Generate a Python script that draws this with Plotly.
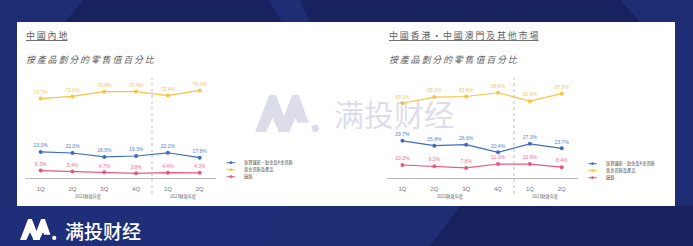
import plotly.graph_objects as go

W, H = 693, 246

# ---------------- data ----------------
quarters = ["1Q", "2Q", "3Q", "4Q", "1Q", "2Q"]
fiscal_years = ["2022財政年度", "2023財政年度"]
quarters_per_year = [4, 2]
series_names = ["珠寶鑲嵌、鉑金及K金首飾", "黃金首飾及產品", "鐘錶"]

mainland_jewellery = [23.0, 22.0, 18.5, 19.3, 22.2, 17.8]
mainland_gold = [70.7, 72.6, 76.8, 76.9, 73.4, 78.0]
mainland_watches = [6.3, 5.4, 4.7, 3.8, 4.4, 4.3]

hkmo_jewellery = [29.7, 25.8, 26.6, 20.4, 27.3, 23.7]
hkmo_gold = [60.1, 65.1, 65.6, 68.6, 61.8, 67.9]
hkmo_watches = [10.2, 9.2, 7.8, 11.0, 10.9, 8.4]

panel_titles = ["中國內地", "中國香港・中國澳門及其他市場"]
panel_subtitle = "按產品劃分的零售值百分比"

# ---------------- styles ----------------
line_colors = ["#3E6DBF", "#F8C441", "#E9577E"]
label_colors = ["#5581CC", "#F5C55A", "#EE6D8E"]
CJK = "Noto Sans CJK TC"
SC = "Noto Sans CJK SC"
NUM = "Liberation Sans"


def px(x):
    return x / W


def py(y):
    return 1 - y / H


def spaced(s):
    return "\u2009".join(list(s))


idx = list(range(len(quarters)))
fig = go.Figure()

panels = [
    dict(data=[mainland_jewellery, mainland_gold, mainland_watches], xa="x", ya="y",
         xd=(24.8, 215.6), yr=84.6, title_x=24, leg_x=226.7, leg_y=162.7),
    dict(data=[hkmo_jewellery, hkmo_gold, hkmo_watches], xa="x2", ya="y2",
         xd=(386.5, 577.7), yr=76.5, title_x=386.5, leg_x=588.3, leg_y=163.7),
]

shapes = []
annotations = []

# background decoration
shapes.append(dict(type="path", xref="paper", yref="paper", layer="below",
                   path=f"M {px(83)},{py(0)} L {px(268)},{py(0)} L {px(282)},{py(22)} L {px(65)},{py(22)} Z",
                   fillcolor="#17225F", line=dict(width=0)))
shapes.append(dict(type="path", xref="paper", yref="paper", layer="below",
                   path=f"M {px(300)},{py(0)} L {px(620)},{py(0)} L {px(640)},{py(22)} L {px(310)},{py(22)} Z",
                   fillcolor="#17225F", line=dict(width=0)))
shapes.append(dict(type="path", xref="paper", yref="paper", layer="below",
                   path=f"M {px(0)},{py(206)} L {px(290)},{py(206)} L {px(262)},{py(246)} L {px(0)},{py(246)} Z",
                   fillcolor="#1F2E78", line=dict(width=0)))
shapes.append(dict(type="path", xref="paper", yref="paper", layer="below",
                   path=f"M {px(460)},{py(206)} L {px(693)},{py(206)} L {px(693)},{py(246)} L {px(430)},{py(246)} Z",
                   fillcolor="#17225F", line=dict(width=0)))
# white panel
shapes.append(dict(type="rect", xref="paper", yref="paper", layer="below",
                   x0=px(17), x1=px(675), y0=py(206), y1=py(22),
                   fillcolor="white", line=dict(width=0)))


def logo_path(x0, yb, S):
    def P(u, v):
        return f"{px(x0 + u * S)},{py(yb - v * S)}"
    w, t = 0.95, 0.3
    a = 0.0
    inner = 1 - 2 * t / w
    hA = (f"M {P(a, 0)} L {P(a + w / 2 - 0.09, 1)} L {P(a + w / 2 + 0.09, 1)} L {P(a + w, 0)} "
          f"L {P(a + w - t, 0)} L {P(a + w / 2, inner)} L {P(a + t, 0)} Z")
    b = 0.62
    cut = 0.25
    dx = cut * w / 2
    hB = (f"M {P(b, 0)} L {P(b + w / 2 - 0.09, 1)} L {P(b + w / 2 + 0.09, 1)} L {P(b + w - dx, cut)} "
          f"L {P(b + w - t - dx, cut)} L {P(b + w / 2, inner)} L {P(b + t, 0)} Z")
    return hA, hB, (x0 + (b + w + 0.06) * S, yb - 0.1 * S, 0.1 * S)


def add_logo(x0, yb, S, color, layer):
    hA, hB, (cx, cy, r) = logo_path(x0, yb, S)
    for p in (hA, hB):
        shapes.append(dict(type="path", xref="paper", yref="paper", layer=layer,
                           path=p, fillcolor=color, line=dict(width=0)))
    shapes.append(dict(type="circle", xref="paper", yref="paper", layer=layer,
                       x0=px(cx - r), x1=px(cx + r), y0=py(cy + r), y1=py(cy - r),
                       fillcolor=color, line=dict(width=0)))


# watermark
add_logo(255, 132, 37, "#DCDDE9", "below")
annotations.append(dict(text="满投财经", xref="paper", yref="paper", x=px(332), y=py(113),
                        xanchor="left", yanchor="middle", showarrow=False,
                        font=dict(family=SC, size=30, color="rgba(185,188,212,0.5)")))
# bottom brand
add_logo(20, 240, 21, "white", "above")
annotations.append(dict(text="满投财经", xref="paper", yref="paper", x=px(63), y=py(230),
                        xanchor="left", yanchor="middle", showarrow=False,
                        font=dict(family=SC, size=19, color="white", weight=500)))

layout_axes = {}
for k, pnl in enumerate(panels):
    xa, ya = pnl["xa"], pnl["ya"]
    for i, vals in enumerate(pnl["data"]):
        fig.add_trace(go.Scatter(
            x=idx, y=vals, xaxis=xa, yaxis=ya, mode="lines+markers+text",
            line=dict(color=line_colors[i], width=1.2),
            marker=dict(color=line_colors[i], size=4),
            text=[f"{v:.1f}%" for v in vals], textposition="top center",
            textfont=dict(family=NUM, size=5, color=label_colors[i]),
            cliponaxis=False, showlegend=False, name=series_names[i]))
    suffix = "" if k == 0 else "2"
    layout_axes["xaxis" + suffix] = dict(
        domain=[px(pnl["xd"][0]), px(pnl["xd"][1])], range=[-0.5, len(quarters) - 0.5],
        tickvals=idx, ticktext=quarters, showline=True, linecolor="#B8B8B8", linewidth=1,
        showgrid=False, zeroline=False, ticks="", ticklabelstandoff=5,
        tickfont=dict(family=NUM, size=6, color="#777777"),
        anchor="y" + suffix, fixedrange=True)
    layout_axes["yaxis" + suffix] = dict(
        domain=[py(177.6), py(83)], range=[0, pnl["yr"]], visible=False,
        anchor="x" + suffix, fixedrange=True)

    # year separator
    boundary = quarters_per_year[0] - 0.5
    shapes.append(dict(type="line", xref=xa, yref="paper", x0=boundary, x1=boundary,
                       y0=py(194), y1=py(78), line=dict(color="#BDBDBD", width=1, dash="dot")))
    # year labels
    start = 0
    for yl, n in zip(fiscal_years, quarters_per_year):
        annotations.append(dict(text=yl, xref=xa, yref="paper", x=start + (n - 1) / 2, y=py(196),
                                showarrow=False, xanchor="center", yanchor="middle",
                                font=dict(family=CJK, size=4.2, color="#666666")))
        start += n
    # titles
    annotations.append(dict(text="<u>" + spaced(panel_titles[k]) + "</u>", xref="paper", yref="paper",
                            x=px(pnl["title_x"]), y=py(35.5), xanchor="left", yanchor="middle",
                            showarrow=False, font=dict(family=CJK, size=9, color="#5E5E5E")))
    annotations.append(dict(text="<i>" + spaced(panel_subtitle) + "</i>", xref="paper", yref="paper",
                            x=px(pnl["title_x"]), y=py(59), xanchor="left", yanchor="middle",
                            showarrow=False, font=dict(family=CJK, size=9, color="#5E5E5E")))
    # legend
    for i, name in enumerate(series_names):
        ly = pnl["leg_y"] + 7 * i
        lx = pnl["leg_x"]
        shapes.append(dict(type="line", xref="paper", yref="paper", x0=px(lx), x1=px(lx + 8.5),
                           y0=py(ly), y1=py(ly), line=dict(color=line_colors[i], width=1)))
        shapes.append(dict(type="circle", xref="paper", yref="paper",
                           x0=px(lx + 4.25 - 1.4), x1=px(lx + 4.25 + 1.4),
                           y0=py(ly + 1.4), y1=py(ly - 1.4),
                           fillcolor=line_colors[i], line=dict(width=0)))
        annotations.append(dict(text=name, xref="paper", yref="paper", x=px(lx + 15.5), y=py(ly),
                                xanchor="left", yanchor="middle", showarrow=False,
                                font=dict(family=CJK, size=4.2, color="#555555")))

fig.update_layout(
    width=W, height=H, margin=dict(l=0, r=0, t=0, b=0),
    paper_bgcolor="#1E2D74", plot_bgcolor="rgba(0,0,0,0)",
    showlegend=False, shapes=shapes, annotations=annotations, **layout_axes)

fig.write_html("out.html", config={"displayModeBar": False})
